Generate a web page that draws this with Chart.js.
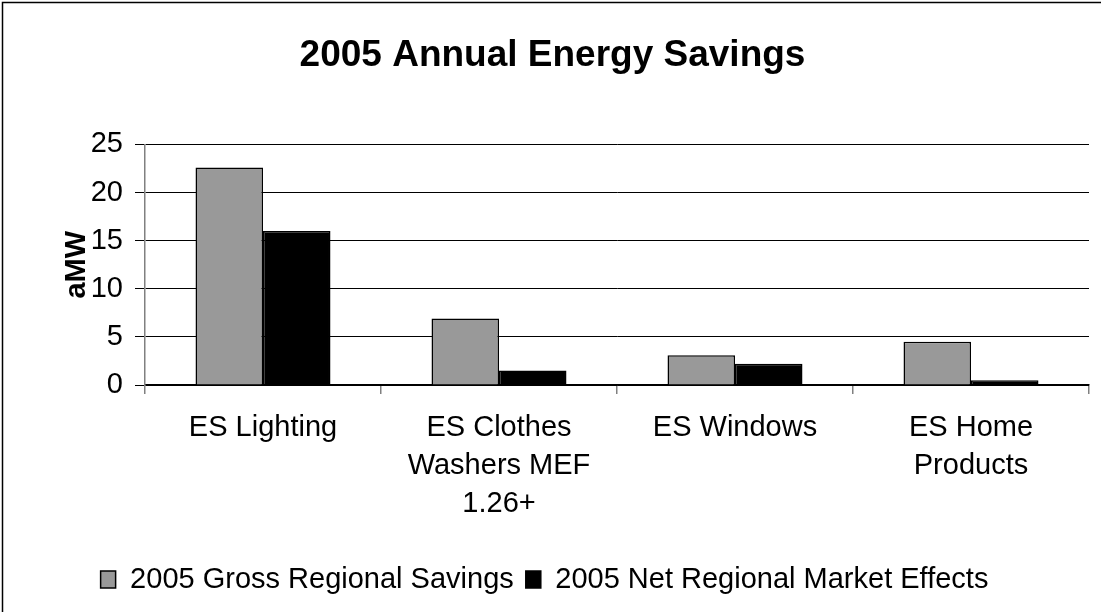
<!DOCTYPE html>
<html>
<head>
<meta charset="utf-8">
<script src="https://cdn.jsdelivr.net/npm/chart.js@4.4.0/dist/chart.umd.min.js"></script>
<style>
  html, body { margin: 0; padding: 0; background: #ffffff; }
  #wrap { width: 1101px; height: 612px; position: relative; }
</style>
</head>
<body>
<div id="wrap"><canvas id="c" width="1101" height="612"></canvas></div>
<script>
const categories = [
  ["ES Lighting"],
  ["ES Clothes", "Washers MEF", "1.26+"],
  ["ES Windows"],
  ["ES Home", "Products"]
];
const grossSavings = [22.6, 6.9, 3.1, 4.5];
const netMarketEffects = [16.0, 1.5, 2.2, 0.5];
const seriesNames = ["2005 Gross Regional Savings", "2005 Net Regional Market Effects"];
const chartTitle = "2005 Annual Energy Savings";
const yAxisTitle = "aMW";
const yTicks = [0, 5, 10, 15, 20, 25];

const FONT = "'Liberation Sans', Arial, sans-serif";

const frame = {
  id: 'frame',
  afterLayout(chart) {
    const t = chart.titleBlock;
    if (t) { t.left += 8; t.right += 8; }
  },
  beforeDraw(chart) {
    const ctx = chart.ctx;
    ctx.save();
    ctx.fillStyle = '#ffffff';
    ctx.fillRect(0, 0, chart.width, chart.height);
    ctx.strokeStyle = '#000000';
    ctx.lineWidth = 1.5;
    ctx.beginPath();
    ctx.moveTo(2.5, chart.height + 5);
    ctx.lineTo(2.5, 2.5);
    ctx.lineTo(chart.width + 5, 2.5);
    ctx.stroke();
    ctx.restore();
  }
};

new Chart(document.getElementById('c'), {
  type: 'bar',
  data: {
    labels: categories,
    datasets: [
      {
        label: seriesNames[0],
        data: grossSavings,
        backgroundColor: '#999999',
        borderColor: '#000000',
        borderWidth: 1.5,
        borderSkipped: 'bottom'
      },
      {
        label: seriesNames[1],
        data: netMarketEffects,
        backgroundColor: '#000000',
        borderColor: '#000000',
        borderWidth: 1.5,
        borderSkipped: 'bottom'
      }
    ]
  },
  plugins: [frame],
  options: {
    responsive: false,
    animation: false,
    devicePixelRatio: 1,
    layout: { padding: { left: 0, right: 12, top: 0, bottom: 8 } },
    datasets: { bar: { barPercentage: 1.0, categoryPercentage: 0.572 } },
    plugins: {
      title: {
        display: true,
        text: chartTitle,
        color: '#000000',
        font: { family: FONT, size: 37, weight: 'bold', lineHeight: 1.2 },
        padding: { top: 34, bottom: 66 }
      },
      legend: {
        display: true,
        position: 'bottom',
        labels: {
          color: '#000000',
          font: { family: FONT, size: 29 },
          boxWidth: 15,
          boxHeight: 17,
          padding: 12,
          generateLabels(chart) {
            return chart.data.datasets.map((ds, i) => ({
              text: ds.label,
              fillStyle: ds.backgroundColor,
              strokeStyle: '#000000',
              lineWidth: 1.5,
              hidden: false,
              datasetIndex: i,
              fontColor: '#000000'
            }));
          }
        }
      },
      tooltip: { enabled: false }
    },
    scales: {
      x: {
        afterFit(scale) { scale.height = 168; },
        grid: {
          offset: true,
          drawOnChartArea: false,
          drawTicks: true,
          tickLength: 9,
          color: '#808080',
          lineWidth: 1.5
        },
        border: { display: true, color: '#000000', width: 1.5 },
        ticks: {
          color: '#000000',
          font: { family: FONT, size: 29, lineHeight: 1.31 },
          padding: 15,
          maxRotation: 0,
          autoSkip: false
        }
      },
      y: {
        min: 0,
        max: 25,
        afterFit(scale) { scale.width = 145; },
        afterBuildTicks(scale) { scale.ticks = yTicks.map(v => ({ value: v })); },
        grid: {
          color: '#000000',
          lineWidth: 1,
          drawTicks: true,
          tickLength: 10
        },
        border: { display: true, color: '#808080', width: 1.5 },
        ticks: {
          color: '#000000',
          font: { family: FONT, size: 29 },
          padding: 12
        },
        title: {
          display: true,
          text: yAxisTitle,
          color: '#000000',
          font: { family: FONT, size: 29, weight: 'bold', lineHeight: 1.2 },
          padding: { top: 60, bottom: 0 }
        }
      }
    }
  }
});
</script>
</body>
</html>
